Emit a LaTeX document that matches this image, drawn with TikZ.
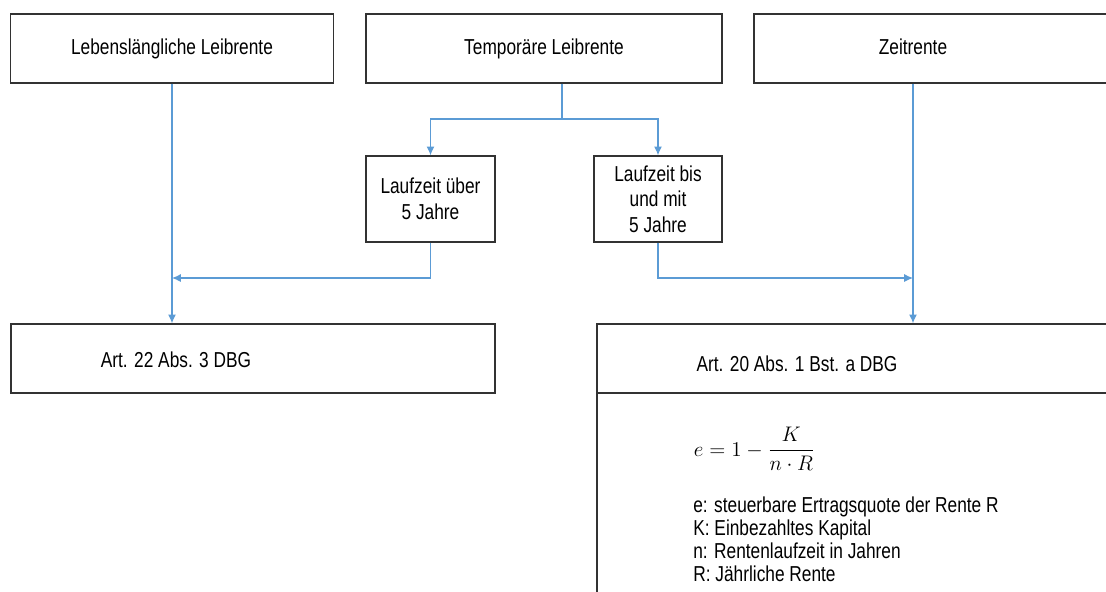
\documentclass[tikz,border=0pt]{standalone}
\usepackage{fontspec}
\setmainfont{Liberation Sans}[FakeStretch=0.8]
\usetikzlibrary{arrows.meta}
\definecolor{linkblue}{RGB}{91,155,213}
\definecolor{boxgray}{RGB}{50,50,50}

\begin{document}
\begin{tikzpicture}[every node/.style={align=center, font=\fontsize{12.3}{14.5}\selectfont},
  box/.style={draw=boxgray, line width=0.8pt, inner sep=0pt},
  link/.style={draw=linkblue, line width=0.6pt, -{Latex[length=5pt,width=4.5pt]}}]
\clip (0,0) rectangle (22.12,-11.82);

% Rentenarten
\node (lebens) [box, minimum width=6.46cm, minimum height=1.38cm] at (3.44,-0.97) {Lebenslängliche Leibrente};
\node (temp) [box, minimum width=7.12cm, minimum height=1.38cm] at (10.88,-0.97) {Temporäre Leibrente};
\node (zeit) [box, minimum width=7.52cm, minimum height=1.38cm, label={[xshift=-0.58cm, yshift=0.03cm]center:Zeitrente}] at (18.84,-0.97) {};

% Laufzeit
\node (ueber) [box, minimum width=2.58cm, minimum height=1.72cm] at (8.61,-3.98) {Laufzeit über\\5 Jahre};
\node (bis) [box, minimum width=2.56cm, minimum height=1.72cm] at (13.16,-3.98) {Laufzeit bis\\und mit\\5 Jahre};

% Besteuerung
\node (art22) [box, minimum width=9.68cm, minimum height=1.38cm, label={[xshift=-1.54cm, yshift=-0.03cm]center:Art. 22 Abs. 3 DBG}] at (5.06,-7.17) {};
\node (art20) [box, minimum width=10.86cm, minimum height=1.38cm, label={[xshift=-1.43cm, yshift=-0.1cm]center:Art. 20 Abs. 1 Bst. a DBG}] at (17.37,-7.17) {};
\node (quote) [box, minimum width=10.86cm, minimum height=4.34cm] at (17.37,-10.03) {};
\node (formel) at (15.09,-8.98) {$\displaystyle e = 1 - \frac{K}{n\cdot R}$};
\node (legende) [anchor=north west, inner sep=0pt, align=left, font=\fontsize{12.3}{13.1}\selectfont] at (13.86,-9.92)
  {e: steuerbare Ertragsquote der Rente R\\K: Einbezahltes Kapital\\n: Rentenlaufzeit in Jahren\\R: Jährliche Rente};

\coordinate (split) at (11.24,-2.38);
\coordinate (lj) at (3.44,-5.56);
\coordinate (zj) at (18.26,-5.56);

\draw[link] (lebens.south) -- (lebens.south |- art22.north);
\draw[draw=linkblue, line width=0.6pt] (temp.south -| split) -- (split);
\draw[link] (split) -| (ueber.north);
\draw[link] (split) -| (bis.north);
\draw[link] (ueber.south) |- (lj);
\draw[link] (bis.south) |- (zj);
\draw[link] (zeit.south -| zj) -- (zj |- art20.north);
\end{tikzpicture}
\end{document}
